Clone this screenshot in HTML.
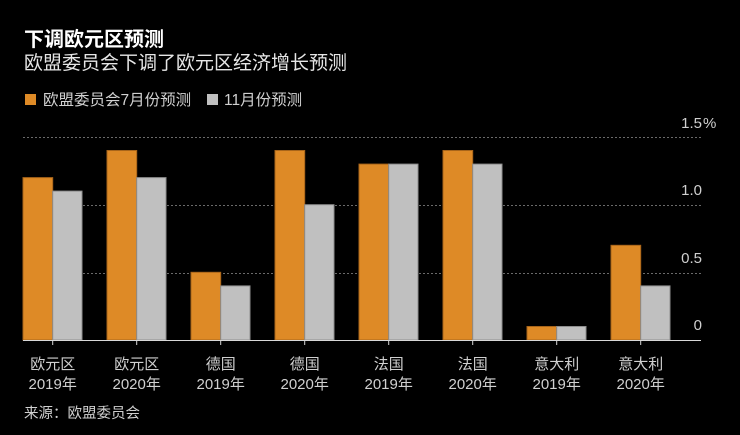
<!DOCTYPE html>
<html><head><meta charset="utf-8"><style>
html,body{margin:0;padding:0;background:#000;}
body{width:740px;height:435px;overflow:hidden;}
svg{display:block;}
text{font-family:"Liberation Sans","Noto Sans CJK SC",sans-serif;}
</style></head><body>
<svg width="740" height="435" viewBox="0 0 740 435" xmlns="http://www.w3.org/2000/svg">
<rect width="740" height="435" fill="#000"/>
<text x="24" y="46" font-size="20" font-weight="bold" fill="#fff">下调欧元区预测</text>
<text x="24" y="69" font-size="19" fill="#e6e6e6">欧盟委员会下调了欧元区经济增长预测</text>
<rect x="25" y="94" width="11" height="11" fill="#de8a26"/>
<text x="43" y="105" font-size="15.5" fill="#d0d0d0">欧盟委员会7月份预测</text>
<rect x="207" y="94" width="11" height="11" fill="#c0c0c0"/>
<text x="224" y="105" font-size="15.5" fill="#d0d0d0">11月份预测</text>
<g stroke="#6a6a6a" stroke-width="1" stroke-dasharray="2,2">
<line x1="23" y1="137.5" x2="701" y2="137.5"/>
<line x1="23" y1="205.5" x2="701" y2="205.5"/>
<line x1="23" y1="273.5" x2="701" y2="273.5"/>
</g>
<g font-size="15" fill="#d0d0d0" text-anchor="end">
<text x="702" y="128">1.5</text>
<text x="712" y="128" text-anchor="start" dx="-10" font-size="15"></text>
<text x="702" y="195">1.0</text>
<text x="702" y="263">0.5</text>
<text x="702" y="330">0</text>
</g>
<text x="703" y="128" font-size="15" fill="#d0d0d0">%</text>
<g id="bars">
<!-- group 0 -->
<rect x="23" y="177.6" width="29.7" height="162.4" fill="#de8a26" stroke="#a8651a" stroke-width="1"/>
<rect x="52.7" y="191.1" width="29.3" height="148.9" fill="#c0c0c0" stroke="#8e8e8e" stroke-width="1"/>
<!-- group 1 -->
<rect x="107" y="150.5" width="29.7" height="189.5" fill="#de8a26" stroke="#a8651a" stroke-width="1"/>
<rect x="136.7" y="177.6" width="29.3" height="162.4" fill="#c0c0c0" stroke="#8e8e8e" stroke-width="1"/>
<!-- group 2 -->
<rect x="191" y="272.3" width="29.7" height="67.7" fill="#de8a26" stroke="#a8651a" stroke-width="1"/>
<rect x="220.7" y="285.9" width="29.3" height="54.1" fill="#c0c0c0" stroke="#8e8e8e" stroke-width="1"/>
<!-- group 3 -->
<rect x="275" y="150.5" width="29.7" height="189.5" fill="#de8a26" stroke="#a8651a" stroke-width="1"/>
<rect x="304.7" y="204.7" width="29.3" height="135.3" fill="#c0c0c0" stroke="#8e8e8e" stroke-width="1"/>
<!-- group 4 -->
<rect x="359" y="164.1" width="29.7" height="175.9" fill="#de8a26" stroke="#a8651a" stroke-width="1"/>
<rect x="388.7" y="164.1" width="29.3" height="175.9" fill="#c0c0c0" stroke="#8e8e8e" stroke-width="1"/>
<!-- group 5 -->
<rect x="443" y="150.5" width="29.7" height="189.5" fill="#de8a26" stroke="#a8651a" stroke-width="1"/>
<rect x="472.7" y="164.1" width="29.3" height="175.9" fill="#c0c0c0" stroke="#8e8e8e" stroke-width="1"/>
<!-- group 6 -->
<rect x="527" y="326.5" width="29.7" height="13.5" fill="#de8a26" stroke="#a8651a" stroke-width="1"/>
<rect x="556.7" y="326.5" width="29.3" height="13.5" fill="#c0c0c0" stroke="#8e8e8e" stroke-width="1"/>
<!-- group 7 -->
<rect x="611" y="245.3" width="29.7" height="94.7" fill="#de8a26" stroke="#a8651a" stroke-width="1"/>
<rect x="640.7" y="285.9" width="29.3" height="54.1" fill="#c0c0c0" stroke="#8e8e8e" stroke-width="1"/>
</g>
<line x1="23" y1="340.5" x2="701" y2="340.5" stroke="#d8d8d8" stroke-width="1"/>
<g stroke="#d8d8d8" stroke-width="1">
<line x1="52.7" y1="340" x2="52.7" y2="345"/>
<line x1="136.7" y1="340" x2="136.7" y2="345"/>
<line x1="220.7" y1="340" x2="220.7" y2="345"/>
<line x1="304.7" y1="340" x2="304.7" y2="345"/>
<line x1="388.7" y1="340" x2="388.7" y2="345"/>
<line x1="472.7" y1="340" x2="472.7" y2="345"/>
<line x1="556.7" y1="340" x2="556.7" y2="345"/>
<line x1="640.7" y1="340" x2="640.7" y2="345"/>
</g>
<g font-size="15" fill="#d0d0d0" text-anchor="middle">
<text x="52.7" y="369">欧元区</text><text x="52.7" y="389">2019年</text>
<text x="136.7" y="369">欧元区</text><text x="136.7" y="389">2020年</text>
<text x="220.7" y="369">德国</text><text x="220.7" y="389">2019年</text>
<text x="304.7" y="369">德国</text><text x="304.7" y="389">2020年</text>
<text x="388.7" y="369">法国</text><text x="388.7" y="389">2019年</text>
<text x="472.7" y="369">法国</text><text x="472.7" y="389">2020年</text>
<text x="556.7" y="369">意大利</text><text x="556.7" y="389">2019年</text>
<text x="640.7" y="369">意大利</text><text x="640.7" y="389">2020年</text>
</g>
<text x="24" y="418" font-size="14.5" fill="#d0d0d0">来源：欧盟委员会</text>
</svg>
</body></html>
